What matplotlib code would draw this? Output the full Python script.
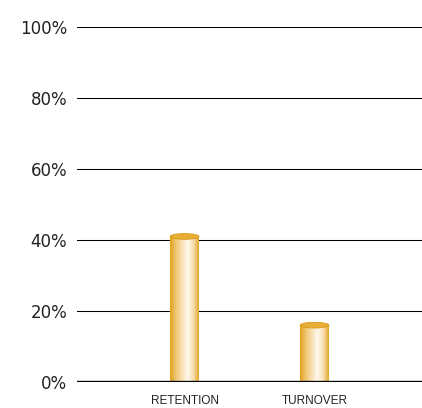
import numpy as np
import matplotlib
matplotlib.use("Agg")
import matplotlib.pyplot as plt
from matplotlib.patches import Rectangle, Ellipse
from matplotlib.colors import LinearSegmentedColormap

categories = ["RETENTION", "TURNOVER"]
values = [41, 16]
yticks = [0, 20, 40, 60, 80, 100]
ytick_labels = ["0%", "20%", "40%", "60%", "80%", "100%"]

fig = plt.figure(figsize=(4.22, 4.08), dpi=100)
ax = fig.add_axes([77/422, 1-382/408, 345/422, 355/408])
ax.set_xlim(-0.827, 1.827)
ax.set_ylim(0, 100)

for y in yticks[1:]:
    ax.axhline(y, color="black", lw=0.75, zorder=1)
ax.axhline(0, color="black", lw=2.4, zorder=5)

cmap = LinearSegmentedColormap.from_list("gold", [
    (0.0, "#E2A21C"), (0.22, "#F0C878"), (0.6, "#FFF8EE"),
    (0.8, "#F8E0B4"), (1.0, "#E4A626")])
grad = np.linspace(0, 1, 256).reshape(1, -1)
w = 0.223
eh = 1.6
for i, v in enumerate(values):
    x0 = i - w/2
    rect = Rectangle((x0, 0), w, v, facecolor="none", edgecolor="none")
    ax.add_patch(rect)
    im = ax.imshow(grad, cmap=cmap, extent=(x0, x0 + w, 0, v), aspect="auto", zorder=3, interpolation="bilinear")
    im.set_clip_path(rect)
    ax.add_patch(Ellipse((i, v), w, eh, facecolor="#E8AE35", edgecolor="#D99A18", lw=0.6, zorder=4))

ax.set_aspect("auto")
ax.set_xlim(-0.827, 1.827)
ax.set_ylim(0, 100)
ax.set_yticks(yticks)
ax.set_yticklabels(ytick_labels, fontsize=12, color="#222222")
ax.set_xticks(range(len(categories)))
ax.set_xticklabels(categories, fontsize=8.5, color="#222222", family="Liberation Sans")
ax.tick_params(axis="both", length=0)
ax.tick_params(axis="y", pad=7)
ax.tick_params(axis="x", pad=9)
for s in ax.spines.values():
    s.set_visible(False)

fig.savefig("out.png", dpi=100)
